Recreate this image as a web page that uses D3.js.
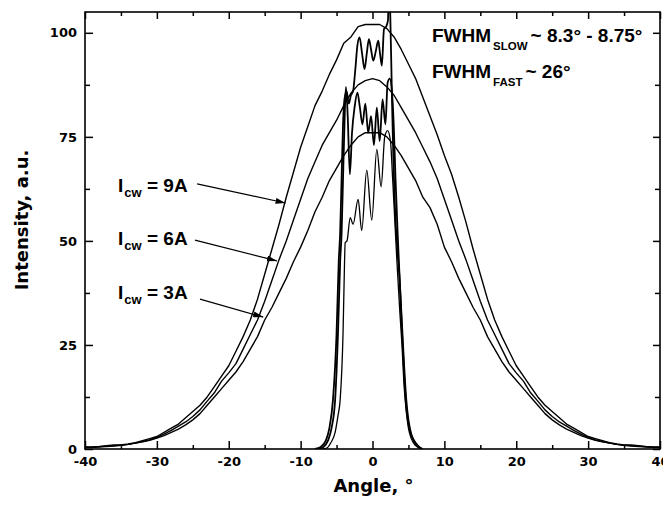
<!DOCTYPE html>
<html>
<head>
<meta charset="utf-8">
<script src="https://cdn.jsdelivr.net/npm/d3@7"></script>
<style>
  html, body { margin: 0; padding: 0; background: #fff; }
  svg { display: block; }
</style>
</head>
<body>
<div id="chart"></div>
<script>
// ---------------- DATA ----------------
const angles = d3.range(-40, 41, 1); // -40 .. 40 degrees

// Fast-axis (broad) profiles, one value per degree from -40 to 40
const fast9A = [0.5,0.5,0.6,0.8,1,1,1.2,1.5,2,2.5,3,4,5,6,7.5,9,10.5,12.5,15,17.5,20,23.5,27,31,36,42,48,54,60.5,66.5,72.5,77.5,82.5,86,90,93.5,97.5,99,101.5,102,
  102,
  102,101,99,96,92.5,89,84.5,80,75.5,70.5,66,60.5,54.5,48,42,36,31,27,23.5,20,17.5,15,12.5,10.5,9,7.5,6,5,4,3,2.5,2,1.5,1.2,1,1,0.8,0.6,0.5,0.5];
const fast6A = [0.4,0.4,0.5,0.7,0.8,0.9,1.1,1.4,1.8,2.2,2.8,3.6,4.5,5.5,6.5,7.8,9.4,11.5,13.5,16.3,18.3,20.5,24,27.5,31,35.5,40.5,45.5,50,55,60,65,69,73,76,79,82.5,85.5,87.5,88.5,
  89,
  88.5,87,85,82,79,76,72.5,69,65,60,55,50,45.5,40.5,35.5,31,27.5,24,20.5,18.3,16.3,13.5,11.5,9.4,7.8,6.5,5.5,4.5,3.6,2.8,2.2,1.8,1.4,1.1,0.9,0.8,0.7,0.5,0.4,0.4];
const fast3A = [0.4,0.4,0.5,0.6,0.7,0.9,1.1,1.4,1.7,2.1,2.6,3.2,4,4.8,5.8,7,8.5,10.5,12.5,14.5,16.5,18.5,21,24,27,31,34,37.5,41,45,48.5,52.5,57,60.5,64.5,67.5,70.5,73,75,76,
  76,
  76,75,73,70.5,67.5,64.5,60.5,58,54,48.5,45,41,37.5,34,31,27,24,21,18.5,16.5,14.5,12.5,10.5,8.5,7,5.8,4.8,4,3.2,2.6,2.1,1.7,1.4,1.1,0.9,0.7,0.6,0.5,0.4,0.4];

// Slow-axis (narrow) profiles
const slow9X = [-8.0,-7.2,-6.5,-6.0,-5.5,-5.0,-4.7,-4.5,-4.3,-4.1,-3.9,-3.6,-3.3,-3.0,-2.7,-2.4,-2.1,-1.8,-1.45,-1.1,-0.8,-0.5,-0.2,0.1,0.45,0.8,1.05,1.3,1.6,1.9,2.15,2.3,2.45,2.7,2.9,3.2,3.5,3.8,4.1,4.4,4.7,5.0,5.5,6.0,6.5,7.0];
const slow9Y = [0,0.5,2,5,11.8,27.8,45,52,65,78,84,86,83,85,86,91,97,98.9,95,91.3,95,98.5,96,93.3,95.5,98.1,95,92.1,100.9,101.5,103,112,106,85,70,55,47,40,28,18,10,6,3,1.5,0.5,0];
const slow6X = [-7.5,-6.8,-6.2,-5.7,-5.2,-4.8,-4.5,-4.3,-4.1,-3.9,-3.7,-3.45,-3.15,-2.85,-2.5,-2.1,-1.75,-1.4,-1.0,-0.6,-0.2,0.2,0.6,1.0,1.4,1.8,2.1,2.4,2.7,2.95,3.2,3.5,3.8,4.1,4.4,4.7,5.0,5.4,5.9,6.4,6.9];
const slow6Y = [0,0.5,2,5,11.8,27.8,45,51.8,65,78,87,80,66,76,82,85.6,82,78,83,76,80,73,82,74,84,78,88,89,86,78,65,51.8,40,30,20,11.8,7,3.5,1.5,0.5,0];
const slow3X = [-6.9,-6.3,-5.8,-5.2,-4.8,-4.5,-4.1,-3.95,-3.8,-3.55,-3.1,-2.7,-2.0,-1.5,-0.8,-0.1,0.6,1.2,1.7,2.1,2.5,2.8,3.1,3.4,3.8,4.1,4.4,4.7,5.0,5.4,5.9,6.4,6.9];
const slow3Y = [0,0.3,1.5,4,8,11.8,27.8,40,49.6,50,55.6,54,60,52.5,67,55,72,63,75,76.5,74,65,55,45,33,25,15,9,5,2.5,1,0.3,0];

// Ticks
const xMajor = [-40,-30,-20,-10,0,10,20,30,40];
const xMinor = [-35,-25,-15,-5,5,15,25,35];
const yMajor = [0,25,50,75,100];
const yMinor = [12.5,37.5,62.5,87.5];

// Annotations (in data coordinates)
const currentLabels = ["9A","6A","3A"];
const currentLabelPos = [[-35.4,61.75],[-35.4,49.0],[-35.4,36.0]];
const arrowFrom = [[-24.4,63.7],[-24.7,50.2],[-24.0,36.0]];
const arrowTo = [[-12.1,59.1],[-13.3,45.2],[-15.2,31.7]];
const fwhmSubs = ["SLOW","FAST"];
const fwhmVals = ["~ 8.3° - 8.75°","~ 26°"];
const fwhmPos = [[8.28,97.8],[8.28,89.1]];

// ---------------- CHART ----------------
const W = 663, H = 510;
const L = 85, R = 660, T = 12, B = 449;

const svg = d3.select("#chart").append("svg")
  .attr("width", W).attr("height", H)
  .style("background", "#fff");

const x = d3.scaleLinear().domain([-40, 40]).range([L, R]);
const y = d3.scaleLinear().domain([0, 105]).range([B, T]);

svg.append("defs").append("clipPath").attr("id", "plotclip")
  .append("rect").attr("x", L).attr("y", T).attr("width", R - L).attr("height", B - T);

const tickFont = "'DejaVu Sans', sans-serif";

function styleAxis(g) {
  g.select(".domain").remove();
  g.selectAll(".tick line").attr("stroke", "#000").attr("stroke-width", 1.5);
  g.selectAll(".tick text").attr("fill", "#000")
    .style("font-family", tickFont).style("font-weight", "bold").style("font-size", "13px");
}

// bottom
svg.append("g").attr("transform", `translate(0,${B})`)
  .call(d3.axisBottom(x).tickValues(xMajor).tickSize(-8).tickPadding(8).tickFormat(d => String(d)))
  .call(styleAxis);
svg.append("g").attr("transform", `translate(0,${B})`)
  .call(d3.axisBottom(x).tickValues(xMinor).tickSize(-4).tickFormat(""))
  .call(styleAxis);
// top
svg.append("g").attr("transform", `translate(0,${T})`)
  .call(d3.axisTop(x).tickValues(xMajor).tickSize(-7).tickFormat(""))
  .call(styleAxis);
svg.append("g").attr("transform", `translate(0,${T})`)
  .call(d3.axisTop(x).tickValues(xMinor).tickSize(-4).tickFormat(""))
  .call(styleAxis);
// left
svg.append("g").attr("transform", `translate(${L},0)`)
  .call(d3.axisLeft(y).tickValues(yMajor).tickSize(-8).tickPadding(8).tickFormat(d => String(d)))
  .call(styleAxis);
svg.append("g").attr("transform", `translate(${L},0)`)
  .call(d3.axisLeft(y).tickValues(yMinor).tickSize(-5).tickFormat(""))
  .call(styleAxis);
// right
svg.append("g").attr("transform", `translate(${R},0)`)
  .call(d3.axisRight(y).tickValues(yMajor).tickSize(-7).tickFormat(""))
  .call(styleAxis);
svg.append("g").attr("transform", `translate(${R},0)`)
  .call(d3.axisRight(y).tickValues(yMinor).tickSize(-5).tickFormat(""))
  .call(styleAxis);

// frame
svg.append("rect").attr("x", L).attr("y", T).attr("width", R - L).attr("height", B - T)
  .attr("fill", "none").attr("stroke", "#000").attr("stroke-width", 1.6);

// lines
const plot = svg.append("g").attr("clip-path", "url(#plotclip)");
const lineLin = d3.line().x(d => x(d[0])).y(d => y(d[1])).curve(d3.curveLinear);
const lineSmooth = d3.line().x(d => x(d[0])).y(d => y(d[1])).curve(d3.curveMonotoneX);

[fast9A, fast6A, fast3A].forEach(arr => {
  plot.append("path").datum(angles.map((a, i) => [a, arr[i]]))
    .attr("d", lineLin).attr("fill", "none").attr("stroke", "#000")
    .attr("stroke-width", 1.4).attr("stroke-linejoin", "round");
});

[[slow9X, slow9Y, 1.8], [slow6X, slow6Y, 1.8], [slow3X, slow3Y, 1.3]].forEach(([xs, ys, w]) => {
  plot.append("path").datum(xs.map((v, i) => [v, ys[i]]))
    .attr("d", lineSmooth).attr("fill", "none").attr("stroke", "#000")
    .attr("stroke-width", w).attr("stroke-linejoin", "round");
});

// axis titles
const titleFont = "'DejaVu Sans', sans-serif";
svg.append("text").attr("x", (L + R) / 2 + 1).attr("y", 492)
  .attr("text-anchor", "middle")
  .style("font-family", titleFont).style("font-weight", "bold").style("font-size", "18px")
  .text("Angle, °");
svg.append("text").attr("transform", `translate(28,220) rotate(-90)`)
  .attr("text-anchor", "middle")
  .style("font-family", titleFont).style("font-weight", "bold").style("font-size", "18px")
  .text("Intensity, a.u.");

// annotations
const annFont = "'Liberation Sans', Arial, sans-serif";
svg.append("defs").append("marker").attr("id", "ah")
  .attr("viewBox", "0 0 10 6").attr("refX", 10).attr("refY", 3)
  .attr("markerWidth", 10).attr("markerHeight", 6).attr("markerUnits", "userSpaceOnUse")
  .attr("orient", "auto")
  .append("path").attr("d", "M0,0 L10,3 L0,6 Z").attr("fill", "#000");

currentLabels.forEach((lab, i) => {
  const t = svg.append("text")
    .attr("x", x(currentLabelPos[i][0])).attr("y", y(currentLabelPos[i][1]))
    .style("font-family", annFont).style("font-weight", "bold").style("font-size", "19px");
  t.append("tspan").text("I");
  t.append("tspan").attr("dy", 5).attr("dx", 1).style("font-size", "13px").text("cw");
  t.append("tspan").attr("dy", -5).text(" = " + lab);
  svg.append("line")
    .attr("x1", x(arrowFrom[i][0])).attr("y1", y(arrowFrom[i][1]))
    .attr("x2", x(arrowTo[i][0])).attr("y2", y(arrowTo[i][1]))
    .attr("stroke", "#000").attr("stroke-width", 1.2).attr("marker-end", "url(#ah)");
});

fwhmSubs.forEach((sub, i) => {
  const t = svg.append("text")
    .attr("x", x(fwhmPos[i][0])).attr("y", y(fwhmPos[i][1]))
    .style("font-family", annFont).style("font-weight", "bold").style("font-size", "19px");
  t.append("tspan").text("FWHM");
  t.append("tspan").attr("dy", 8).attr("dx", 2).style("font-size", "11.5px").text(sub);
  t.append("tspan").attr("dy", -8).attr("dx", 3).text(fwhmVals[i]);
});
</script>
</body>
</html>
